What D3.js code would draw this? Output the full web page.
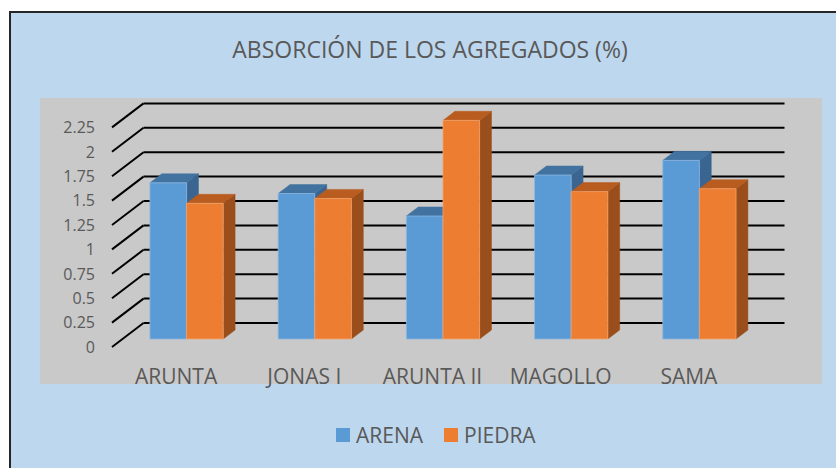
<!DOCTYPE html>
<html>
<head>
<meta charset="utf-8">
<script src="https://cdn.jsdelivr.net/npm/d3@7"></script>
<style>
  body { margin: 0; background: #fff; }
  text { font-family: "Open Sans", sans-serif; fill: #595959; }
</style>
</head>
<body>
<div id="chart"></div>
<script>
// chart data
var categories = ["ARUNTA", "JONAS I", "ARUNTA II", "MAGOLLO", "SAMA"];
var series = ["ARENA", "PIEDRA"];
var arena = [1.60, 1.49, 1.26, 1.68, 1.83];
var piedra = [1.39, 1.44, 2.24, 1.51, 1.54];
var yTicks = [0, 0.25, 0.5, 0.75, 1, 1.25, 1.5, 1.75, 2, 2.25];

var width = 836, height = 468;

// faces: front, top, side
var colors = {
  ARENA:  {front: "#5b9bd5", top: "#4273a0", side: "#3a6590", edge: "#8bb8e2"},
  PIEDRA: {front: "#ed7d31", top: "#b85c1f", side: "#9a4e1c", edge: "#f3a46f"}
};

// oblique depth vector of the floor
var depth = {dx: 31.5, dy: -24};
var barFront = 0.333, barBack = 0.71;

var svg = d3.select("#chart").append("svg")
    .attr("width", width)
    .attr("height", height);

// chart area + plot area
svg.append("rect")
    .attr("x", 10).attr("y", 12)
    .attr("width", width + 20).attr("height", height + 20)
    .style("fill", "#bdd7ee")
    .style("stroke", "#262626")
    .style("stroke-width", 2);

svg.append("rect")
    .attr("x", 40).attr("y", 98)
    .attr("width", 782).attr("height", 286)
    .style("fill", "#c9c9c9");

var x = d3.scaleBand().domain(categories).range([112, 753]);
var xs = d3.scaleBand().domain(series).range([0, x.bandwidth()]).paddingOuter(0.75);
var y = d3.scaleLinear().domain([0, 2.25]).range([347, 347 - 2.25 * 97.6]);

function pt(px, py, d) {
  return [px + d * depth.dx, py + d * depth.dy];
}

// gridlines: side wall and back wall
var grid = svg.append("g");
grid.selectAll("line.side")
    .data(yTicks)
    .enter()
  .append("line")
    .attr("class", "side")
    .attr("x1", 112).attr("y1", function(d) { return y(d); })
    .attr("x2", 112 + depth.dx).attr("y2", function(d) { return y(d) + depth.dy; })
    .style("stroke", "#000").style("stroke-width", 2);
grid.selectAll("line.back")
    .data(yTicks)
    .enter()
  .append("line")
    .attr("class", "back")
    .attr("x1", 112 + depth.dx).attr("y1", function(d) { return y(d) + depth.dy; })
    .attr("x2", 753 + depth.dx).attr("y2", function(d) { return y(d) + depth.dy; })
    .style("stroke", "#000").style("stroke-width", 2);

// tick labels
svg.append("g").selectAll("text")
    .data(yTicks)
    .enter()
  .append("text")
    .attr("x", 95)
    .attr("y", function(d) { return y(d); })
    .attr("dy", "0.36em")
    .attr("text-anchor", "end")
    .style("font-size", "16px")
    .text(function(d) { return d; });

// bars, drawn left to right
var bars = [];
categories.forEach(function(c, i) {
  bars.push({cat: c, s: "ARENA", v: arena[i]});
  bars.push({cat: c, s: "PIEDRA", v: piedra[i]});
});

var barG = svg.append("g").selectAll("g")
    .data(bars)
    .enter()
  .append("g");

function poly(points) {
  return points.map(function(p) { return p.join(","); }).join(" ");
}

barG.each(function(d) {
  var g = d3.select(this);
  var x0 = x(d.cat) + xs(d.s), x1 = x0 + xs.bandwidth();
  var yb = y(0), yt = y(d.v);
  var c = colors[d.s];
  // front face
  var f = [pt(x0, yt, barFront), pt(x1, yt, barFront), pt(x1, yb, barFront), pt(x0, yb, barFront)];
  // top face
  var t = [pt(x0, yt, barFront), pt(x1, yt, barFront), pt(x1, yt, barBack), pt(x0, yt, barBack)];
  // right side face
  var s = [pt(x1, yt, barFront), pt(x1, yt, barBack), pt(x1, yb, barBack), pt(x1, yb, barFront)];
  g.append("polygon").attr("points", poly(s))
      .style("fill", c.side).style("stroke", c.side).style("stroke-width", 0.5);
  g.append("polygon").attr("points", poly(t))
      .style("fill", c.top).style("stroke", c.top).style("stroke-width", 0.5);
  g.append("polygon").attr("points", poly(f))
      .style("fill", c.front).style("stroke", c.edge).style("stroke-width", 0.8);
});

// category labels
svg.append("g").selectAll("text")
    .data(categories)
    .enter()
  .append("text")
    .attr("x", function(d) { return x(d) + x.bandwidth() / 2; })
    .attr("y", 384)
    .attr("text-anchor", "middle")
    .style("font-size", "21px")
    .text(function(d) { return d; });

// title
svg.append("text")
    .attr("x", 430)
    .attr("y", 58)
    .attr("text-anchor", "middle")
    .style("font-size", "23px")
    .text("ABSORCIÓN DE LOS AGREGADOS (%)");

// legend
var legendX = [336, 444];
var legend = svg.append("g").selectAll("g")
    .data(series)
    .enter()
  .append("g")
    .attr("transform", function(d, i) { return "translate(" + legendX[i] + ",428)"; });
legend.append("rect")
    .attr("width", 14).attr("height", 14)
    .style("fill", function(d) { return colors[d].front; });
legend.append("text")
    .attr("x", 20).attr("y", 14.5)
    .style("font-size", "21px")
    .text(function(d) { return d; });
</script>
</body>
</html>
